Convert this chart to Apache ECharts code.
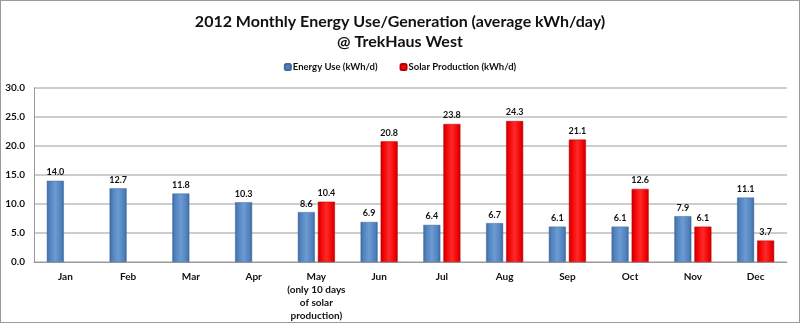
<!DOCTYPE html>
<html>
<head>
<meta charset="utf-8">
<script src="https://cdn.jsdelivr.net/npm/echarts@6/dist/echarts.min.js"></script>
<style>
  html, body { margin: 0; padding: 0; background: #fff; }
  #chart { width: 800px; height: 323px; box-sizing: border-box; border: 1px solid #9a9a9a; }
</style>
</head>
<body>
<div id="chart"></div>
<script>
// Monthly averages, kWh per day
const months = ['Jan', 'Feb', 'Mar', 'Apr', 'May\n(only 10 days\nof solar\nproduction)', 'Jun', 'Jul', 'Aug', 'Sep', 'Oct', 'Nov', 'Dec'];
const energyUse = [14.0, 12.7, 11.8, 10.3, 8.6, 6.9, 6.4, 6.7, 6.1, 6.1, 7.9, 11.1];
const solarProduction = [null, null, null, null, 10.4, 20.8, 23.8, 24.3, 21.1, 12.6, 6.1, 3.7];
const yTicks = { min: 0, max: 30, interval: 5 };

const FONT = 'Lato, "Open Sans", sans-serif';

function barFill(dark, mid, light) {
  return new echarts.graphic.LinearGradient(0, 0, 1, 0, [
    { offset: 0, color: dark },
    { offset: 0.15, color: mid },
    { offset: 0.5, color: light },
    { offset: 0.85, color: mid },
    { offset: 1, color: dark }
  ]);
}

const labelStyle = {
  show: true,
  position: 'top',
  distance: 4,
  fontFamily: FONT,
  fontWeight: 'bold',
  fontSize: 9,
  color: '#111',
  formatter: p => (p.value == null ? '' : Number(p.value).toFixed(1))
};

const chart = echarts.init(document.getElementById('chart'), null, { renderer: 'canvas' });
chart.setOption({
  animation: false,
  title: {
    text: '2012 Monthly Energy Use/Generation (average kWh/day)\n@ TrekHaus West',
    left: 'center',
    top: 6,
    textStyle: { fontFamily: FONT, fontWeight: 'bold', fontSize: 16, lineHeight: 20, color: '#111' }
  },
  legend: {
    top: 56,
    left: 'center',
    itemWidth: 6,
    itemHeight: 6,
    itemGap: 22,
    textStyle: { fontFamily: FONT, fontWeight: 'bold', fontSize: 9.5, color: '#111', padding: [0, 0, 0, -3] },
    data: [
      { name: 'Energy Use (kWh/d)', itemStyle: { color: '#4f81bd' } },
      { name: 'Solar Production (kWh/d)', itemStyle: { color: '#ff0000' } }
    ]
  },
  grid: { left: 33, right: 12, top: 87, bottom: 60, containLabel: false },
  xAxis: {
    type: 'category',
    data: months,
    axisLine: { lineStyle: { color: '#9a9a9a', width: 1 } },
    axisTick: { show: false },
    axisLabel: {
      interval: 0,
      margin: 8,
      fontFamily: FONT,
      fontWeight: 'bold',
      fontSize: 10,
      lineHeight: 13,
      color: '#111'
    }
  },
  yAxis: {
    type: 'value',
    min: yTicks.min,
    max: yTicks.max,
    interval: yTicks.interval,
    axisLine: { show: true, lineStyle: { color: '#9a9a9a', width: 1 } },
    axisTick: { show: false },
    splitLine: { lineStyle: { color: '#bdbdbd', width: 1.5 } },
    axisLabel: {
      margin: 9,
      fontFamily: FONT,
      fontWeight: 'bold',
      fontSize: 10,
      color: '#111',
      formatter: v => v.toFixed(1)
    }
  },
  series: [
    {
      name: 'Energy Use (kWh/d)',
      type: 'bar',
      data: energyUse,
      barWidth: 17,
      barGap: '18%',
      itemStyle: { color: barFill('#3a679e', '#4f81bd', '#6c9bd2'), borderColor: '#3f6a9c', borderWidth: 0.5 },
      label: labelStyle
    },
    {
      name: 'Solar Production (kWh/d)',
      type: 'bar',
      data: solarProduction,
      barWidth: 17,
      barGap: '18%',
      itemStyle: { color: barFill('#c40000', '#f00000', '#ff2a2a'), borderColor: '#b00000', borderWidth: 0.5 },
      label: labelStyle
    }
  ]
});
</script>
</body>
</html>
